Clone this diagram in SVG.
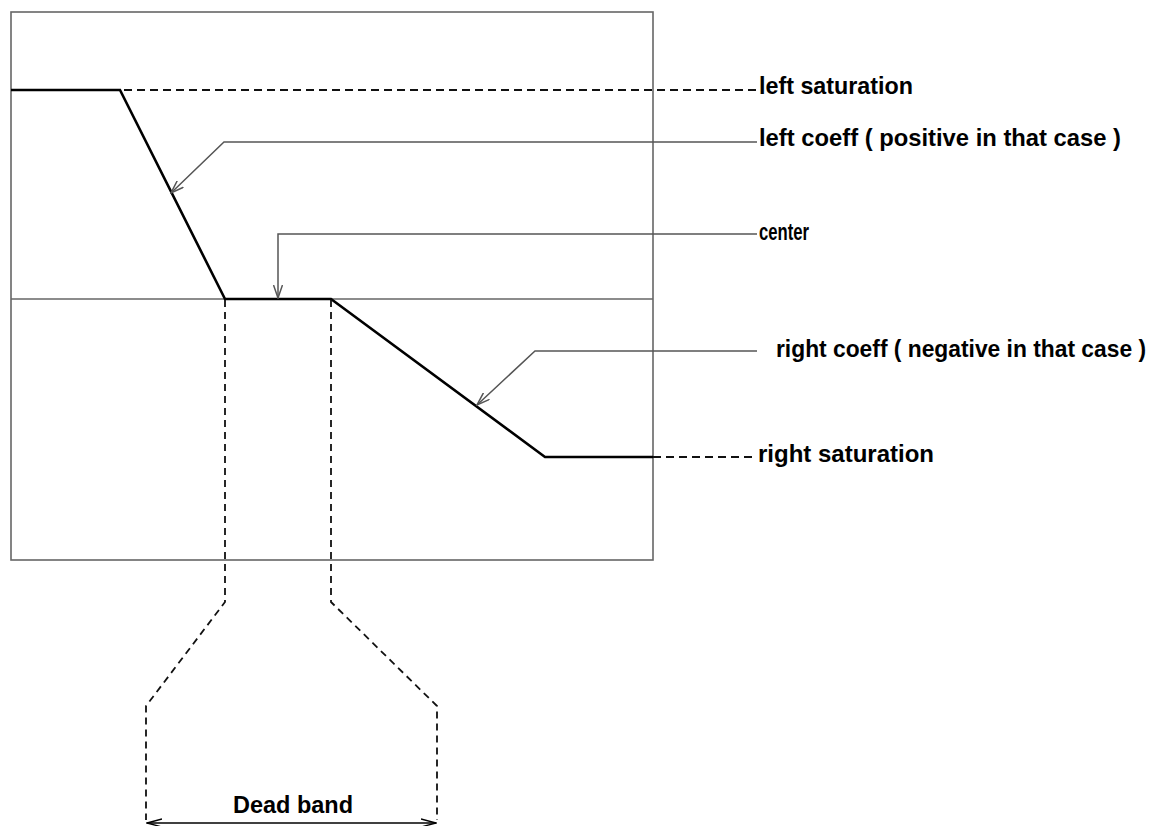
<svg xmlns="http://www.w3.org/2000/svg" width="1162" height="826" viewBox="0 0 1162 826">
<style>
.frame{fill:none;stroke:#666;stroke-width:1.6}
.curve{fill:none;stroke:#000;stroke-width:2.6;stroke-linejoin:miter}
.dash{fill:none;stroke:#111;stroke-width:1.8;stroke-dasharray:8 5}
.leader{fill:none;stroke:#555;stroke-width:1.5}
.dim{fill:none;stroke:#000;stroke-width:1.6}
.lbl{font-family:"Liberation Sans",Arial,sans-serif;font-size:24px;font-weight:bold;fill:#000}
</style>
<defs>
<marker id="arr" viewBox="0 0 14 10" refX="13" refY="5" markerWidth="14" markerHeight="10" markerUnits="userSpaceOnUse" orient="auto">
<path d="M0,0.5 L13,5 L0,9.5" fill="none" stroke="#555" stroke-width="1.5"/>
</marker>
<marker id="arrd" viewBox="0 0 16 10" refX="15" refY="5" markerWidth="16" markerHeight="10" markerUnits="userSpaceOnUse" orient="auto-start-reverse">
<path d="M0,1 L15,5 L0,9" fill="none" stroke="#000" stroke-width="1.3"/>
</marker>
</defs>
<g id="frame">
<rect class="frame" x="11" y="12" width="642" height="548"/>
<line class="frame" x1="11" y1="299" x2="653" y2="299"/>
</g>
<g id="curve">
<polyline class="curve" points="11,90 120,90 225,299 331,299 545,457 653,457"/>
</g>
<g id="connectors">
<line class="dash" x1="124" y1="90" x2="757" y2="90"/>
<line class="dash" x1="653" y1="457" x2="757" y2="457"/>
<polyline class="leader" points="757,142 224,142 171,193" marker-end="url(#arr)"/>
<polyline class="leader" points="757,234 278,234 278,298" marker-end="url(#arr)"/>
<polyline class="leader" points="757,351 535,351 477,405" marker-end="url(#arr)"/>
<polyline class="dash" points="225,300 225,602 146,706 146,820" style="stroke-dasharray:7 5"/>
<polyline class="dash" points="331,300 331,602 437,706 437,820" style="stroke-dasharray:7 5"/>
<line class="dim" x1="147" y1="823" x2="436" y2="823" marker-start="url(#arrd)" marker-end="url(#arrd)"/>
</g>
<g id="label-left-saturation"><text class="lbl" x="759" y="94" textLength="154" lengthAdjust="spacingAndGlyphs">left saturation</text></g>
<g id="label-left-coeff"><text class="lbl" x="759" y="146" textLength="362" lengthAdjust="spacingAndGlyphs">left coeff ( positive in that case )</text></g>
<g id="label-center"><text class="lbl" x="759" y="240" textLength="50" lengthAdjust="spacingAndGlyphs">center</text></g>
<g id="label-right-coeff"><text class="lbl" x="776" y="357" font-size="21" textLength="370" lengthAdjust="spacingAndGlyphs">right coeff ( negative in that case )</text></g>
<g id="label-right-saturation"><text class="lbl" x="758" y="462" textLength="176" lengthAdjust="spacingAndGlyphs">right saturation</text></g>
<g id="label-dead-band"><text class="lbl" x="233" y="813" textLength="120" lengthAdjust="spacingAndGlyphs">Dead band</text></g>
</svg>
